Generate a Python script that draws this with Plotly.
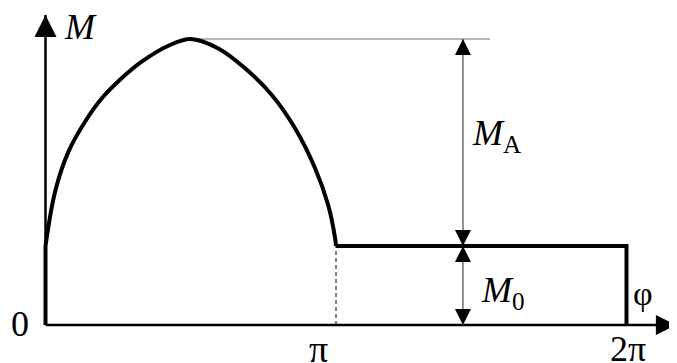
import plotly.graph_objects as go

# ---- data (phi in units of pi, M in units of M0) ----
curve_phi = [0.0, 0.033, 0.079, 0.136, 0.194, 0.262, 0.331, 0.423, 0.5,
             0.595, 0.687, 0.779, 0.859, 0.928, 0.973, 0.997, 1.0]
curve_M = [1.0, 1.687, 2.194, 2.573, 2.870, 3.123, 3.333, 3.535, 3.62,
           3.500, 3.249, 2.911, 2.490, 1.984, 1.519, 1.097, 1.0]
M0 = 1.0
M_peak = 3.62
phi_end = 2.0          # 2*pi
tick_vals = [0, 1, 2]
tick_text = ["0", "π", "2π"]

# decoration extents (in data units)
y_axis_top = 3.924
x_axis_end = 2.170
peak_line_end = 1.530
dim_x = 1.437

FONT = "Liberation Serif"
BLACK = "#000000"
GREY = "#6e6e6e"

# page body has an 8px margin: pixel mapping of the plot area
OFF = 8
X0_PX, PX_PER_PI = 45.5 - OFF, 290.5
Y0_PX, PX_PER_M = 325 - OFF, 79.0

fig = go.Figure()

def seg(x, y, color, width, dash=None):
    fig.add_trace(go.Scatter(x=x, y=y, mode="lines", hoverinfo="skip",
                             line=dict(color=color, width=width, dash=dash)))

def heads(x, y, symbol, size):
    fig.add_trace(go.Scatter(x=x, y=y, mode="markers", hoverinfo="skip",
                             marker=dict(symbol=symbol, size=size, color=BLACK,
                                         line=dict(width=0))))

# axes with arrowheads
seg([0, 0], [0, y_axis_top], BLACK, 2.5)
seg([0, x_axis_end], [0, 0], BLACK, 2.5)
heads([0], [y_axis_top], "arrow-up", 22)
heads([x_axis_end], [0], "arrow-right", 20)

# peak reference line and dimension line (thin grey)
seg([curve_phi[curve_M.index(M_peak)], peak_line_end], [M_peak, M_peak], GREY, 1.2)
seg([dim_x, dim_x], [0, M_peak], GREY, 1.5)
heads([dim_x, dim_x], [M_peak, M0], "arrow-up", 16)
heads([dim_x, dim_x], [M0, 0], "arrow-down", 16)

# dashed line at pi
seg([tick_vals[1], tick_vals[1]], [0, M0], BLACK, 1, dash="4px,3px")

# main thick curve
seg([0, 0], [0, M0], BLACK, 4)
fig.add_trace(go.Scatter(x=curve_phi, y=curve_M, mode="lines", hoverinfo="skip",
                         line=dict(color=BLACK, width=4, shape="spline",
                                   smoothing=1.0)))
seg([tick_vals[1], phi_end, phi_end], [M0, M0, 0], BLACK, 4)

ann = []
def label(text, x, y, dx, dy, size, family=FONT):
    ann.append(dict(text=text, x=x, y=y, xref="x", yref="y", showarrow=False,
                    xanchor="center", yanchor="middle", xshift=dx, yshift=dy,
                    font=dict(family=family, size=size, color=BLACK)))

label("<i>M</i>", 0, y_axis_top, 35, -12, 36)
label(tick_text[0], tick_vals[0], 0, -25.5, 1, 36)
label(tick_text[1], tick_vals[1], 0, -18, -24, 38)
label(tick_text[2], tick_vals[2], 0, 1.5, -24, 36)
label("φ", phi_end, 0, 16.5, 32, 34)
label("<i>M</i><sub>A</sub>", dim_x, (M0 + M_peak) / 2, 34, 7.5, 36)
label("<i>M</i><sub>0</sub>", dim_x, M0 / 2, 40, -6.5, 36)

W, H = 677, 363
fig.update_layout(
    width=W, height=H, autosize=False,
    margin=dict(l=0, r=0, t=0, b=0),
    paper_bgcolor="white", plot_bgcolor="white",
    showlegend=False,
    font=dict(family=FONT),
    xaxis=dict(visible=False,
               range=[-X0_PX / PX_PER_PI, (W - X0_PX) / PX_PER_PI],
               fixedrange=True),
    yaxis=dict(visible=False,
               range=[(Y0_PX - H) / PX_PER_M, Y0_PX / PX_PER_M],
               fixedrange=True),
    annotations=ann,
)

fig.write_html("out.html")
